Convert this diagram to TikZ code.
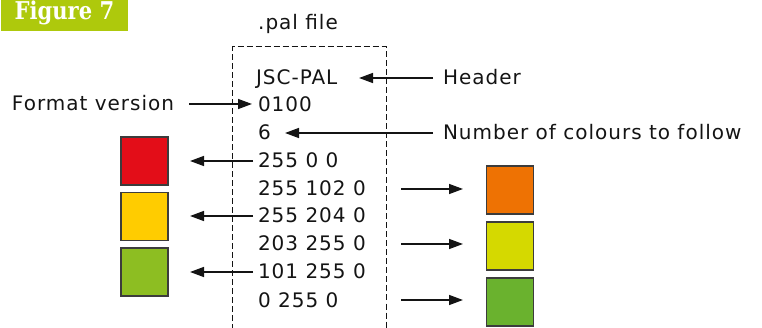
\documentclass[tikz,border=0pt]{standalone}
\usepackage{fontspec}
\setmainfont{DejaVu Sans}[LetterSpace=5]
\newfontfamily\figfont{DejaVu Serif}[FakeStretch=0.86]
\usetikzlibrary{arrows.meta}
\definecolor{banner}{HTML}{AEC90C}
\definecolor{ink}{HTML}{141414}
\definecolor{cRed}{HTML}{E30D18}
\definecolor{cYel}{HTML}{FFCC00}
\definecolor{cGrnL}{HTML}{8DBE22}
\definecolor{cOra}{HTML}{EE7203}
\definecolor{cYG}{HTML}{D5D900}
\definecolor{cGrnR}{HTML}{6AB22E}
\definecolor{edge}{HTML}{3C3C3C}
\tikzset{
  txt/.style={inner sep=0pt, outer sep=0pt, anchor=base west, text height=14pt, text depth=0pt, font=\fontsize{20}{22}\selectfont, text=ink},
  swatch/.style={draw=edge, line width=1.4pt, minimum width=47pt, minimum height=48pt, inner sep=0pt},
  arr/.style={draw=ink, line width=1.5pt, -{Triangle[length=14pt,width=10pt]}},
  filebox/.style={draw=ink, line width=1pt, dash pattern=on 6pt off 3pt}
}
\begin{document}
\begin{tikzpicture}[x=1pt,y=-1pt]
\useasboundingbox (0,0) rectangle (762,328);
% banner
\fill[banner] (1,0) rectangle (128,31);
\node[anchor=base west, inner sep=0pt, text=white, font=\figfont\bfseries\fontsize{24.5}{26}\selectfont] (fig) at (14.5,19.5) {Figure 7};
% file box
\node[anchor=base, inner sep=0pt, font=\fontsize{20}{22}\selectfont, text=ink] (pal) at (298,29.5) {.pal file};
\draw[filebox] (232.5,330) -- (232.5,47) -- (386,47) -- (386,330);
\coordinate (boxR) at (386,0);
% lines of the file
\node[txt] (jsc) at (256,85) {JSC-PAL};
\node[txt] (ver) at (258,112) {0100};
\node[txt] (six) at (258,140) {6};
\node[txt] (l1) at (258,168) {255 0 0};
\node[txt] (l2) at (258,196) {255 102 0};
\node[txt] (l3) at (258,223) {255 204 0};
\node[txt] (l4) at (258,251) {203 255 0};
\node[txt] (l5) at (258,279) {101 255 0};
\node[txt] (l6) at (258,307) {0 255 0};
% labels
\node[txt] (hdr) at (443,85) {Header};
\node[txt] (fmt) at (12,111) {Format version};
\node[txt] (ncol) at (443,140) {Number of colours to follow};
% swatches
\node[swatch, fill=cRed] (s1) at (144.5,161) {};
\node[swatch, fill=cYel] (s3) at (144.5,216.5) {};
\node[swatch, fill=cGrnL] (s5) at (144.5,272) {};
\node[swatch, fill=cOra] (s2) at (510,190) {};
\node[swatch, fill=cYG] (s4) at (510,246) {};
\node[swatch, fill=cGrnR] (s6) at (510,302) {};
% arrows
\draw[arr, shorten <=10pt] (hdr.west) -- (hdr.west -| 359,0);
\draw[arr] (fmt.east -| 189,0) -- (fmt.east -| 252,0);
\draw[arr, shorten <=10pt] (ncol.west) -- (ncol.west -| 285,0);
\draw[arr] (l1.west -| 253,0) -- (l1.west -| 190,0);
\draw[arr] (l3.west -| 253,0) -- (l3.west -| 190,0);
\draw[arr] (l5.west -| 253,0) -- (l5.west -| 190,0);
\draw[arr, shorten <=15pt] (l2.east -| boxR) -- (l2.east -| 463,0);
\draw[arr, shorten <=15pt] (l4.east -| boxR) -- (l4.east -| 463,0);
\draw[arr, shorten <=15pt] (l6.east -| boxR) -- (l6.east -| 463,0);
\end{tikzpicture}
\end{document}
